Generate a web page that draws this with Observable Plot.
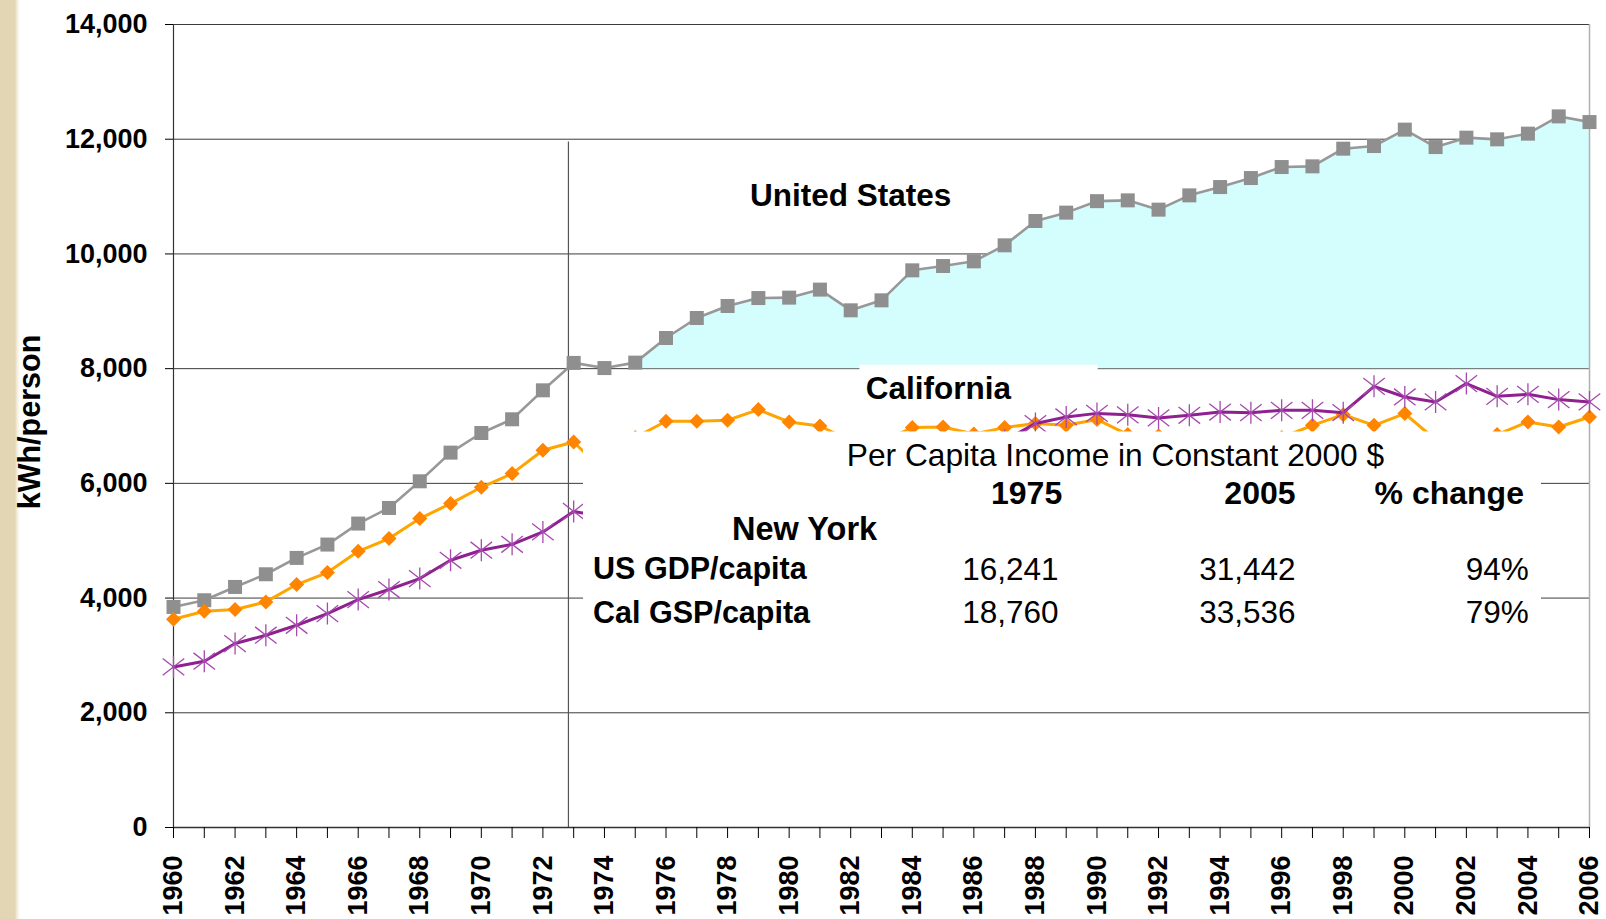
<!DOCTYPE html>
<html>
<head>
<meta charset="utf-8">
<script src="https://cdn.jsdelivr.net/npm/d3@7"></script>
<script src="https://cdn.jsdelivr.net/npm/@observablehq/plot@0.6"></script>
<style>
  html, body { margin: 0; padding: 0; overflow: hidden; }
  body {
    width: 1606px; height: 919px;
    background: linear-gradient(to right, #e3d6b4 0, #e3d6b4 15px, #f3eddc 17px, #ffffff 20px);
    font-family: "Liberation Sans", Arial, sans-serif;
  }
  #chart svg { display: block; }
</style>
</head>
<body>
<div id="chart"></div>
<script>
// ---------------- data ----------------
const years = [1960,1961,1962,1963,1964,1965,1966,1967,1968,1969,
               1970,1971,1972,1973,1974,1975,1976,1977,1978,1979,
               1980,1981,1982,1983,1984,1985,1986,1987,1988,1989,
               1990,1991,1992,1993,1994,1995,1996,1997,1998,1999,
               2000,2001,2002,2003,2004,2005,2006];

// kWh per person
const usKwh = [3845,3962,4194,4415,4700,4933,5299,5571,6036,6536,
               6878,7117,7622,8100,8010,8105,8534,8883,9092,9231,
               9238,9378,9017,9191,9714,9789,9871,10150,10574,10720,
               10920,10934,10772,11021,11166,11323,11515,11527,11835,11881,
               12167,11863,12027,11998,12097,12398,12299];

const caKwh = [3631,3770,3800,3933,4236,4445,4816,5037,5386,5647,
               5932,6170,6577,6721,6200,6800,7082,7082,7100,7286,
               7070,7000,6740,6720,6972,6983,6860,6972,7042,7012,
               7115,6850,6830,6750,6700,6600,6800,7012,7198,7012,
               7216,6760,6700,6850,7071,6983,7157];

const nyKwh = [2800,2899,3207,3352,3526,3730,3974,4149,4340,4659,
               4834,4938,5153,5510,5420,5450,5600,5700,5800,5850,
               5900,5950,6000,6150,6300,6450,6550,6750,7042,7157,
               7220,7195,7140,7187,7244,7233,7273,7273,7233,7692,
               7506,7419,7739,7518,7553,7460,7419];

const yTicks = [0,2000,4000,6000,8000,10000,12000,14000];
const xLabelYears = [1960,1962,1964,1966,1968,1970,1972,1974,1976,1978,1980,1982,
                     1984,1986,1988,1990,1992,1994,1996,1998,2000,2002,2004,2006];

const shadeFromYear = 1975;
const shadeBase = 8000;
const embargoYear = 1972.83;

// income table
const tableTitle = "Per Capita Income in Constant 2000 $";
const tableHeaders = ["1975", "2005", "% change"];
const tableRows = ["US GDP/capita", "Cal GSP/capita"];
const income1975 = [16241, 18760];
const income2005 = [31442, 33536];
const pctChange = [94, 79];

// annotation positions (data units: year, kWh/person)
const seriesLabels = [
  {text: "United States", year: 1982.0, val: 11020, size: 31.5},
  {text: "California", year: 1984.85, val: 7650, size: 31.5},
  {text: "New York", year: 1980.5, val: 5190, size: 32.5}
];
const labelBox = {x1: 1982.3, x2: 1990.04, y1: 7420, y2: 8060};
const tableBox = {x1: 1973.32, x2: 2004.44, y1: 3050, y2: 6896};
const titlePos = {year: 1990.6, val: 6481};
const headerVal = 5822;
const headerRightYears = [1988.87, 1996.45, 2003.87];
const colRightYears = [1988.75, 1996.45, 2004.03];
const rowLabelYear = 1973.63;
const rowVals = [4499, 3744];

// ---------------- build ----------------
const us = years.map((year, i) => ({year, v: usKwh[i]}));
const ca = years.map((year, i) => ({year, v: caKwh[i]}));
const ny = years.map((year, i) => ({year, v: nyKwh[i]}));
const usShade = us.filter(d => d.year >= shadeFromYear);

const squareSym = {draw(ctx, size) { const r = Math.sqrt(size / Math.PI);
  ctx.moveTo(-r, -r); ctx.lineTo(r, -r); ctx.lineTo(r, r); ctx.lineTo(-r, r); ctx.closePath(); }};
const diamondSym = {draw(ctx, size) { const r = Math.sqrt(size / Math.PI);
  ctx.moveTo(0, -r); ctx.lineTo(r, 0); ctx.lineTo(0, r); ctx.lineTo(-r, 0); ctx.closePath(); }};
const starSym = {draw(ctx, size) { const r = Math.sqrt(size / Math.PI);
  const dx = r * 0.98, dy = r * 0.76;
  ctx.moveTo(0, -r); ctx.lineTo(0, r);
  ctx.moveTo(-dx, -dy); ctx.lineTo(dx, dy);
  ctx.moveTo(-dx, dy); ctx.lineTo(dx, -dy); }};

const rowText = [];
tableRows.forEach((name, i) => {
  rowText.push({t: name, year: rowLabelYear, val: rowVals[i], bold: true});
  rowText.push({t: d3.format(",")(income1975[i]), year: colRightYears[0], val: rowVals[i], bold: false});
  rowText.push({t: d3.format(",")(income2005[i]), year: colRightYears[1], val: rowVals[i], bold: false});
  rowText.push({t: pctChange[i] + "%", year: colRightYears[2], val: rowVals[i], bold: false});
});

const chart = Plot.plot({
  width: 1606,
  height: 919,
  marginLeft: 173,
  marginRight: 17,
  marginTop: 24,
  marginBottom: 92,
  style: {
    fontFamily: '"Liberation Sans", Arial, sans-serif',
    fontSize: "27px",
    fontWeight: "bold",
    background: "transparent",
    color: "#000",
    overflow: "visible"
  },
  x: {domain: [1960, 2006], axis: null},
  y: {domain: [0, 14000], axis: null},
  marks: [
    Plot.gridY({ticks: yTicks, stroke: "#3c3c3c", strokeOpacity: 1, strokeWidth: 1}),
    Plot.areaY(usShade, {x: "year", y1: shadeBase, y2: "v", fill: "#d4fdfe"}),
    Plot.ruleX([embargoYear], {y1: 0, y2: 11950, stroke: "#555", strokeWidth: 1.2}),
    Plot.ruleX([2006], {stroke: "#b0b0b0", strokeWidth: 1.5}),
    Plot.ruleX([1960], {stroke: "#333", strokeWidth: 1.2}),
    Plot.ruleY([0], {stroke: "#333", strokeWidth: 1.5}),

    Plot.line(us, {x: "year", y: "v", stroke: "#989898", strokeWidth: 2.6}),
    Plot.dot(us, {x: "year", y: "v", symbol: squareSym, r: 7, fill: "#8f8f8f", stroke: "none"}),

    Plot.line(ca, {x: "year", y: "v", stroke: "#ffa500", strokeWidth: 3}),
    Plot.dot(ca, {x: "year", y: "v", symbol: diamondSym, r: 7.5, fill: "#ff8400", stroke: "none"}),

    Plot.line(ny, {x: "year", y: "v", stroke: "#8e2090", strokeWidth: 3}),
    Plot.dot(ny, {x: "year", y: "v", symbol: starSym, r: 11, fill: "none", stroke: "#a64aae", strokeWidth: 1.3}),

    Plot.rect([labelBox], {x1: "x1", x2: "x2", y1: "y1", y2: "y2", fill: "white"}),
    Plot.rect([tableBox], {x1: "x1", x2: "x2", y1: "y1", y2: "y2", fill: "white"}),

    Plot.text(seriesLabels, {x: "year", y: "val", text: "text", fontSize: d => d.size, fontWeight: "bold", fill: "#000", textAnchor: "middle"}),
    Plot.text([tableTitle], {x: () => titlePos.year, y: () => titlePos.val, text: d => d, fontSize: 31.7, fontWeight: "normal", fill: "#000", textAnchor: "middle"}),
    Plot.text(tableHeaders, {x: (d, i) => headerRightYears[i], y: () => headerVal, text: d => d, fontSize: 32, fontWeight: "bold", textAnchor: "end", fill: "#000"}),
    Plot.text(rowText.filter(d => d.bold), {x: "year", y: "val", text: "t", textAnchor: "start", fontSize: 30.5, fontWeight: "bold", fill: "#000"}),
    Plot.text(rowText.filter(d => !d.bold), {x: "year", y: "val", text: "t", textAnchor: "end", fontSize: 31.5, fontWeight: "normal", fill: "#000"}),

    Plot.axisY({ticks: yTicks, tickSize: 8, tickPadding: 18, tickFormat: d3.format(","), fontSize: 27, fontWeight: "bold", label: null}),
    Plot.axisX({ticks: years, tickSize: 11, tickFormat: () => "", label: null}),
    Plot.axisX({ticks: xLabelYears, tickSize: 0, tickPadding: 28, tickRotate: -90, tickFormat: d => String(d), fontSize: 27, fontWeight: "bold", label: null}),
    Plot.text(["kWh/person"], {text: d => d, frameAnchor: "left", textAnchor: "middle", dx: -143, dy: -4, rotate: -90, fontSize: 30.5, fontWeight: "bold", fill: "#000"})
  ]
});
document.getElementById("chart").appendChild(chart);
</script>
</body>
</html>
